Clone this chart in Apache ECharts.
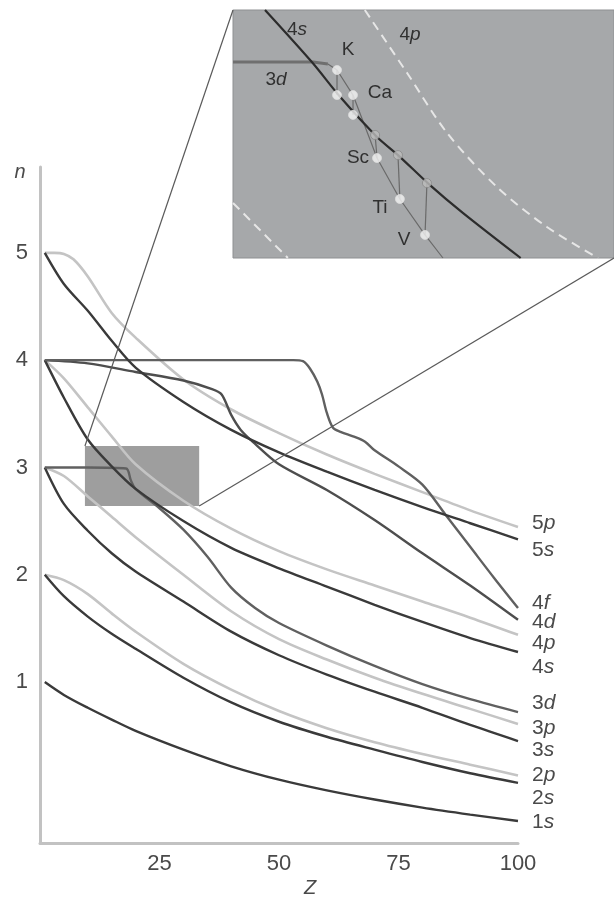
<!DOCTYPE html>
<html>
<head>
<meta charset="utf-8">
<script src="https://cdn.jsdelivr.net/npm/echarts@6/dist/echarts.min.js"></script>
<style>
  html, body { margin: 0; padding: 0; background: #fff; }
  #main { width: 614px; height: 899px; }
</style>
</head>
<body>
<div id="main"></div>
<script>
// main panel: n against Z, one [Z, n] list per orbital
var orbitals = ["1s", "2s", "2p", "3s", "3p", "3d", "4s", "4p", "4d", "4f", "5s", "5p"];

var curve1s = [[1, 1.0], [5, 0.88], [10, 0.76], [15, 0.65], [20, 0.545], [30, 0.37], [40, 0.215], [50, 0.09], [60, -0.01], [70, -0.095], [80, -0.17], [90, -0.235], [100, -0.295]];
var curve2s = [[1, 2.0], [5, 1.8], [10, 1.61], [15, 1.45], [20, 1.31], [30, 1.04], [40, 0.81], [50, 0.63], [60, 0.49], [70, 0.37], [80, 0.255], [90, 0.15], [100, 0.06]];
var curve2p = [[1, 2.0], [5, 1.95], [10, 1.82], [15, 1.64], [20, 1.47], [30, 1.17], [40, 0.93], [50, 0.73], [60, 0.57], [70, 0.44], [80, 0.33], [90, 0.23], [100, 0.13]];
var curve3s = [[1, 3.0], [5, 2.66], [10, 2.41], [15, 2.2], [20, 2.03], [30, 1.75], [40, 1.47], [50, 1.25], [60, 1.07], [70, 0.91], [80, 0.76], [90, 0.6], [100, 0.45]];
var curve3p = [[1, 3.0], [5, 2.92], [10, 2.73], [15, 2.54], [20, 2.35], [30, 2.0], [40, 1.66], [50, 1.4], [60, 1.21], [70, 1.04], [80, 0.89], [90, 0.75], [100, 0.61]];
var curve3d = [[1, 3.0], [10, 3.0], [18, 2.99], [19, 2.88], [20, 2.8], [25, 2.62], [30, 2.42], [35, 2.17], [40, 1.88], [45, 1.69], [50, 1.55], [60, 1.34], [70, 1.15], [80, 0.98], [90, 0.84], [100, 0.72]];
var curve4s = [[1, 4.0], [5, 3.65], [10, 3.26], [15, 3.01], [20, 2.8], [30, 2.5], [40, 2.25], [50, 2.06], [60, 1.89], [70, 1.72], [80, 1.56], [90, 1.41], [100, 1.28]];
var curve4p = [[1, 4.0], [5, 3.83], [10, 3.56], [15, 3.29], [20, 3.03], [30, 2.69], [40, 2.43], [50, 2.22], [60, 2.05], [70, 1.9], [80, 1.75], [90, 1.6], [100, 1.44]];
var curve4d = [[1, 4.0], [10, 3.97], [20, 3.89], [30, 3.81], [36, 3.73], [38, 3.68], [40, 3.49], [42, 3.35], [45, 3.22], [50, 3.03], [60, 2.79], [70, 2.51], [80, 2.2], [90, 1.9], [100, 1.58]];
var curve4f = [[1, 4.0], [30, 4.0], [53, 4.0], [55, 3.99], [56.5, 3.92], [58, 3.8], [59, 3.68], [60, 3.51], [61.3, 3.37], [63, 3.33], [65.5, 3.29], [68, 3.24], [70, 3.16], [75, 3.01], [80, 2.84], [85, 2.55], [90, 2.26], [95, 1.97], [100, 1.69]];
var curve5s = [[1, 5.0], [5, 4.71], [10, 4.46], [15, 4.18], [20, 3.93], [30, 3.61], [40, 3.35], [50, 3.14], [60, 2.96], [70, 2.79], [80, 2.63], [90, 2.48], [100, 2.33]];
var curve5p = [[1, 5.0], [3, 5.0], [5, 4.99], [7, 4.94], [10, 4.78], [15, 4.44], [20, 4.21], [30, 3.82], [40, 3.54], [50, 3.32], [60, 3.12], [70, 2.94], [80, 2.77], [90, 2.6], [100, 2.445]];

var yTicks = [1, 2, 3, 4, 5];
var zTicks = [25, 50, 75, 100];

// the grey box that the inset blows up (Z range, n range)
var zoomZ = [9.4, 33.3];
var zoomN = [2.64, 3.2];

// inset panel, in its own 0..100 coordinates
var inset4s = [[8.4, 100], [20.7, 79], [28.1, 65], [37.8, 48.8], [43.3, 41.5], [51.7, 29.4], [60.4, 18.1], [75.5, 0]];
var inset4p = [[34.6, 100], [45.7, 74.6], [56.2, 50.4], [69.3, 28.6], [82.4, 12.5], [95.8, 0]];
var inset3p = [[0, 22.2], [14.4, 0]];
var inset3d = [[0, 79], [21, 79], [24.9, 78.2]];
var elements = ["K", "Ca", "Sc", "Ti", "V"];
var dots4s = [[27.3, 65.7], [31.5, 57.7], [37.3, 49.6], [43.3, 41.5], [50.9, 30.2]];
var dots3d = [[27.3, 75.8], [31.5, 65.7], [37.8, 40.3], [43.8, 23.8], [50.4, 9.3]];
var path3dEnd = [55.1, 0];

var curves = {
  "1s": curve1s, "2s": curve2s, "2p": curve2p, "3s": curve3s, "3p": curve3p, "3d": curve3d,
  "4s": curve4s, "4p": curve4p, "4d": curve4d, "4f": curve4f, "5s": curve5s, "5p": curve5p
};

var DARK = "#3a3a3a", MID = "#606060", LIGHT = "#c4c4c4";
var tone = {
  "1s": DARK, "2s": DARK, "2p": LIGHT, "3s": DARK, "3p": LIGHT, "3d": MID,
  "4s": DARK, "4p": LIGHT, "4d": "#4e4e4e", "4f": MID, "5s": DARK, "5p": LIGHT
};
// vertical nudge of the end labels so they stack like the original
var labelShift = {
  "5p": -4, "5s": 11, "4f": -5, "4d": 2, "4p": 8, "4s": 15,
  "3d": -9, "3p": 4, "3s": 9, "2p": 0, "2s": 15, "1s": 1
};

var FONT = "Liberation Sans, Arial, sans-serif";
var TXT = "#4a4a4a";

var chartDom = document.getElementById("main");
var myChart = echarts.init(chartDom, null, { renderer: "canvas" });

function orbitalLabel(name) {
  return "{d|" + name.charAt(0) + "}{l|" + name.charAt(1) + "}";
}

var series = orbitals.map(function (name) {
  return {
    name: name,
    type: "line",
    xAxisIndex: 0,
    yAxisIndex: 0,
    data: curves[name],
    smooth: 0.3,
    showSymbol: false,
    lineStyle: { color: tone[name], width: tone[name] === LIGHT ? 2.6 : 2.4 },
    z: tone[name] === LIGHT ? 2 : 3,
    endLabel: {
      show: true,
      distance: 14,
      offset: [0, labelShift[name]],
      formatter: function () {
        return orbitalLabel(name);
      },
      rich: {
        d: { fontSize: 21, color: TXT, fontFamily: FONT },
        l: { fontSize: 21, color: TXT, fontFamily: FONT, fontStyle: "italic" }
      }
    }
  };
});

// the grey box on the main panel
series.push({
  type: "line",
  xAxisIndex: 0,
  yAxisIndex: 0,
  data: [],
  z: 10,
  markArea: {
    silent: true,
    itemStyle: { color: "rgba(112,112,112,0.68)" },
    data: [[{ coord: [zoomZ[0], zoomN[1]] }, { coord: [zoomZ[1], zoomN[0]] }]]
  }
});

// inset lines
series.push(
  {
    type: "line", xAxisIndex: 1, yAxisIndex: 1, data: inset3p, showSymbol: false,
    lineStyle: { color: "#e6e6e6", width: 2, type: [9, 6] }
  },
  {
    type: "line", xAxisIndex: 1, yAxisIndex: 1, data: inset4p, showSymbol: false, smooth: 0.3,
    lineStyle: { color: "#e6e6e6", width: 2, type: [9, 6] }
  },
  {
    type: "line", xAxisIndex: 1, yAxisIndex: 1, data: inset3d, showSymbol: false,
    lineStyle: { color: "#6f6f6f", width: 3 }
  },
  {
    type: "line", xAxisIndex: 1, yAxisIndex: 1, data: inset4s, showSymbol: false, smooth: 0.3,
    lineStyle: { color: "#2c2c2c", width: 2.2 }, z: 4
  },
  {
    type: "line", xAxisIndex: 1, yAxisIndex: 1,
    data: [inset3d[inset3d.length - 1]].concat(dots3d, [path3dEnd]),
    showSymbol: false,
    lineStyle: { color: "#6a6a6a", width: 1.2 }
  }
);

// drop lines from each 4s dot to its 3d dot
elements.forEach(function (el, i) {
  series.push({
    type: "line", xAxisIndex: 1, yAxisIndex: 1,
    data: [dots4s[i], dots3d[i]],
    showSymbol: false,
    lineStyle: { color: "#6a6a6a", width: 1.2 }
  });
});

series.push(
  {
    type: "scatter", xAxisIndex: 1, yAxisIndex: 1, z: 6,
    symbolSize: 9,
    data: dots4s.map(function (p, i) {
      return {
        value: p,
        itemStyle: i < 2
          ? { color: "#f4f4f4", borderColor: "#dcdcdc", borderWidth: 1 }
          : { color: "#bdbdbd", borderColor: "#8a8a8a", borderWidth: 1 }
      };
    })
  },
  {
    type: "scatter", xAxisIndex: 1, yAxisIndex: 1, z: 6,
    symbolSize: 9,
    itemStyle: { color: "#f4f4f4", borderColor: "#dcdcdc", borderWidth: 1 },
    data: dots3d
  }
);

var option = {
  animation: false,
  backgroundColor: "#fff",
  textStyle: { fontFamily: FONT },
  grid: [
    { left: 40, right: 96, top: 167, bottom: 56, outerBoundsMode: "none" },
    {
      left: 233, right: 0, top: 10, height: 248, show: true,
      backgroundColor: "#a6a8aa", borderColor: "#8e9092", borderWidth: 1,
      outerBoundsMode: "none"
    }
  ],
  xAxis: [
    {
      type: "value", gridIndex: 0, min: 0, max: 100,
      axisLine: { show: true, onZero: false, lineStyle: { color: "#c2c2c2", width: 3 } },
      axisTick: { show: false },
      splitLine: { show: false },
      axisLabel: { customValues: zTicks, fontSize: 22, color: TXT, margin: 10, fontFamily: FONT }
    },
    { type: "value", gridIndex: 1, min: 0, max: 100, show: false }
  ],
  yAxis: [
    {
      type: "value", gridIndex: 0, min: -0.5, max: 5.8,
      axisLine: { show: true, onZero: false, lineStyle: { color: "#c2c2c2", width: 3 } },
      axisTick: { show: false },
      splitLine: { show: false },
      axisLabel: { customValues: yTicks, fontSize: 22, color: TXT, margin: 12, fontFamily: FONT }
    },
    { type: "value", gridIndex: 1, min: 0, max: 100, show: false }
  ],
  series: series
};

myChart.setOption(option);

// connector lines from the grey box to the inset, placed through the axes
var boxTL = myChart.convertToPixel({ gridIndex: 0 }, [zoomZ[0], zoomN[1]]);
var boxBR = myChart.convertToPixel({ gridIndex: 0 }, [zoomZ[1], zoomN[0]]);
var insetTL = myChart.convertToPixel({ gridIndex: 1 }, [0, 100]);
var insetBR = myChart.convertToPixel({ gridIndex: 1 }, [100, 0]);

function txt(x, y, text, size, color, italic) {
  return {
    type: "text", x: x, y: y, z: 20,
    style: {
      text: text, fontSize: size, fill: color, fontFamily: FONT,
      fontStyle: italic ? "italic" : "normal", align: "center", verticalAlign: "middle"
    }
  };
}
function richTxt(x, y, a, b, size, color) {
  return {
    type: "text", x: x, y: y, z: 20,
    style: {
      text: "{a|" + a + "}{b|" + b + "}", align: "center", verticalAlign: "middle",
      rich: {
        a: { fontSize: size, fill: color, fontFamily: FONT },
        b: { fontSize: size, fill: color, fontFamily: FONT, fontStyle: "italic" }
      }
    }
  };
}

myChart.setOption({
  graphic: [
    {
      type: "line", z: 15, silent: true,
      shape: { x1: boxTL[0], y1: boxTL[1], x2: insetTL[0], y2: insetTL[1] },
      style: { stroke: "#5a5a5a", lineWidth: 1.2 }
    },
    {
      type: "line", z: 15, silent: true,
      shape: { x1: boxBR[0], y1: boxBR[1], x2: insetBR[0], y2: insetBR[1] },
      style: { stroke: "#5a5a5a", lineWidth: 1.2 }
    },
    txt(20, 172, "n", 20, TXT, true),
    txt(310, 888, "Z", 20, TXT, true),
    richTxt(297, 30, "4", "s", 19, "#303030"),
    richTxt(410, 35, "4", "p", 19, "#303030"),
    richTxt(276, 80, "3", "d", 19, "#303030"),
    txt(348, 50, elements[0], 19, "#303030", false),
    txt(380, 93, elements[1], 19, "#303030", false),
    txt(358, 158, elements[2], 19, "#303030", false),
    txt(380, 208, elements[3], 19, "#303030", false),
    txt(404, 240, elements[4], 19, "#303030", false)
  ]
});
</script>
</body>
</html>
